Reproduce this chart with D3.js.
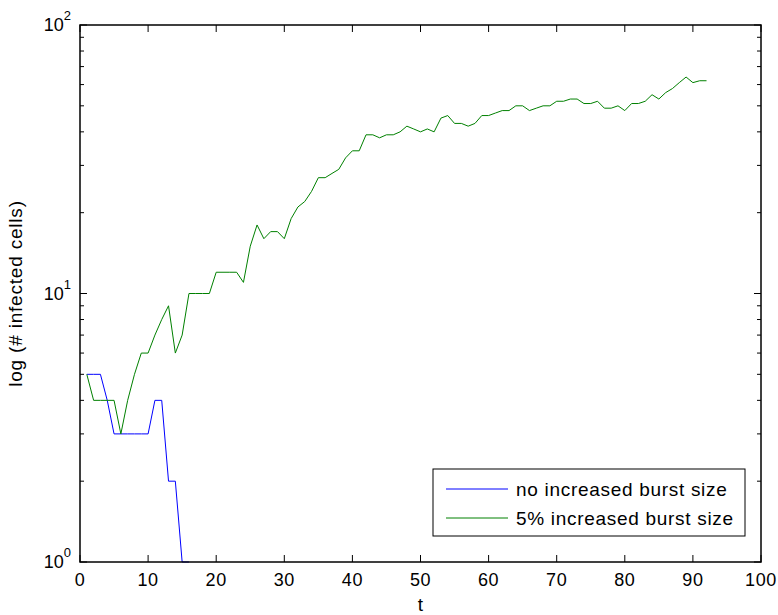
<!DOCTYPE html>
<html>
<head>
<meta charset="utf-8">
<script src="https://cdn.jsdelivr.net/npm/d3@7"></script>
<style>
  body { margin: 0; background: #fff; }
  text { font-family: "Liberation Sans", Arial, sans-serif; fill: #000; }
</style>
</head>
<body>
<div id="chart"></div>
<script>
// values
const tBlue = d3.range(1, 17);
const noIncrease = [5, 5, 5, 4, 3, 3, 3, 3, 3, 3, 4, 4, 2, 2, 1, 1];

const tGreen = d3.range(1, 93);
const fivePct = [5, 4, 4, 4, 4, 3, 4, 5, 6, 6, 7, 8, 9, 6, 7, 10, 10, 10, 10, 12,
  12, 12, 12, 11, 15, 18, 16, 17, 17, 16, 19, 21, 22, 24, 27, 27, 28, 29, 32, 34,
  34, 39, 39, 38, 39, 39, 40, 42, 41, 40, 41, 40, 45, 46, 43, 43, 42, 43, 46, 46,
  47, 48, 48, 50, 50, 48, 49, 50, 50, 52, 52, 53, 53, 51, 51, 52, 49, 49, 50, 48,
  51, 51, 52, 55, 53, 56, 58, 61, 64, 61, 62, 62];

const xTicks = [0, 10, 20, 30, 40, 50, 60, 70, 80, 90, 100];
const yMajor = [1, 10, 100];
const yMinor = [2, 3, 4, 5, 6, 7, 8, 9, 20, 30, 40, 50, 60, 70, 80, 90];
const legendLabels = ['no increased burst size', '5% increased burst size'];
const colors = ['#0000ff', '#008000'];

const margin = {top: 25, right: 17, bottom: 53, left: 80};
const width = 778 - margin.left - margin.right;
const height = 615 - margin.top - margin.bottom;

const svg = d3.select('#chart').append('svg')
  .attr('width', 778)
  .attr('height', 615);

const g = svg.append('g')
  .attr('transform', `translate(${margin.left},${margin.top})`);

const x = d3.scaleLinear().domain([0, 100]).range([0, width]);
const y = d3.scaleLog().domain([1, 100]).range([height, 0]);

// lines
const line = d3.line().x(d => x(d[0])).y(d => y(d[1]));
g.append('path')
  .datum(d3.zip(tBlue, noIncrease))
  .attr('d', line)
  .attr('fill', 'none')
  .attr('stroke', colors[0])
  .attr('stroke-width', 1);
g.append('path')
  .datum(d3.zip(tGreen, fivePct))
  .attr('d', line)
  .attr('fill', 'none')
  .attr('stroke', colors[1])
  .attr('stroke-width', 1);

// box + inward ticks (matlab style)
const ax = g.append('g').attr('stroke', '#000').attr('stroke-width', 1);
ax.append('rect')
  .attr('width', width).attr('height', height)
  .attr('fill', 'none').attr('stroke-width', 1.5);

xTicks.forEach(t => {
  ax.append('line').attr('x1', x(t)).attr('x2', x(t)).attr('y1', height).attr('y2', height - 7);
  ax.append('line').attr('x1', x(t)).attr('x2', x(t)).attr('y1', 0).attr('y2', 7);
});
yMajor.forEach(v => {
  ax.append('line').attr('x1', 0).attr('x2', 7).attr('y1', y(v)).attr('y2', y(v));
  ax.append('line').attr('x1', width).attr('x2', width - 7).attr('y1', y(v)).attr('y2', y(v));
});
yMinor.forEach(v => {
  ax.append('line').attr('x1', 0).attr('x2', 4).attr('y1', y(v)).attr('y2', y(v));
  ax.append('line').attr('x1', width).attr('x2', width - 4).attr('y1', y(v)).attr('y2', y(v));
});

// tick labels
g.append('g').selectAll('text')
  .data(xTicks)
  .join('text')
  .attr('x', d => x(d))
  .attr('y', height + 24)
  .attr('text-anchor', 'middle')
  .style('font-size', '18px')
  .style('letter-spacing', '0.6px')
  .text(d => d);

const yl = g.append('g').selectAll('text')
  .data(yMajor)
  .join('text')
  .attr('x', -9)
  .attr('y', d => y(d) + 6)
  .attr('text-anchor', 'end')
  .style('font-size', '18px');
yl.append('tspan').text('10');
yl.append('tspan')
  .attr('dy', -11)
  .style('font-size', '13px')
  .text(d => Math.round(Math.log10(d)));

// axis titles
g.append('text')
  .attr('x', width / 2)
  .attr('y', height + 49)
  .attr('text-anchor', 'middle')
  .style('font-size', '19px')
  .text('t');
g.append('text')
  .attr('transform', `translate(${-58},${height / 2}) rotate(-90)`)
  .attr('text-anchor', 'middle')
  .style('font-size', '19px')
  .style('letter-spacing', '0.8px')
  .text('log (# infected cells)');

// legend
const lg = g.append('g').attr('transform', `translate(${width - 328},${height - 93})`);
lg.append('rect')
  .attr('width', 312).attr('height', 67)
  .attr('fill', '#fff').attr('stroke', '#000').attr('stroke-width', 1);
legendLabels.forEach((lab, i) => {
  const yy = 20 + i * 29;
  lg.append('line')
    .attr('x1', 13).attr('x2', 75)
    .attr('y1', yy).attr('y2', yy)
    .attr('stroke', colors[i]).attr('stroke-width', 1);
  lg.append('text')
    .attr('x', 83).attr('y', yy + 7)
    .style('font-size', '19px')
    .style('letter-spacing', '0.7px')
    .text(lab);
});
</script>
</body>
</html>
